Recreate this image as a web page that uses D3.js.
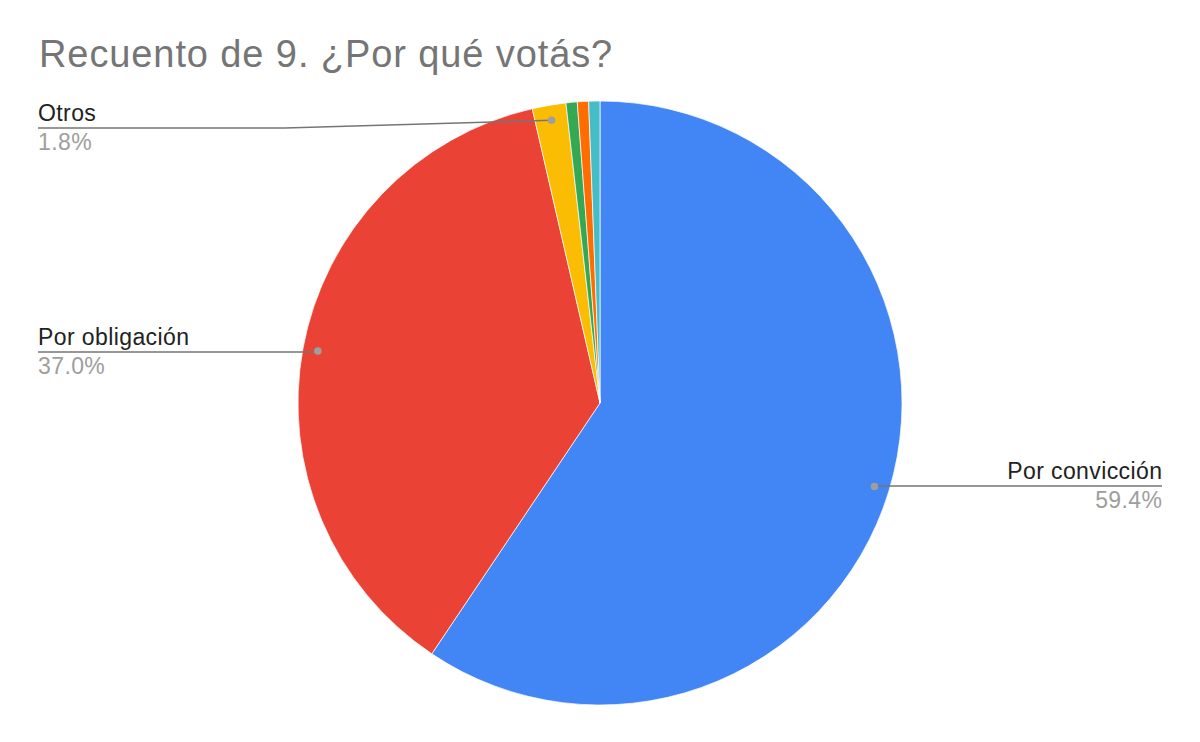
<!DOCTYPE html>
<html>
<head>
<meta charset="utf-8">
<script src="https://cdn.jsdelivr.net/npm/d3@7/dist/d3.min.js"></script>
<style>
  html, body { margin: 0; padding: 0; background: #fff; }
  svg { display: block; }
  text { font-family: Arial, "Liberation Sans", sans-serif; }
</style>
</head>
<body>
<svg id="chart" width="1200" height="742"></svg>
<script>
const title = "Recuento de 9. ¿Por qué votás?";
const categories = ["Por convicción", "Por obligación", "Otros", "Opción 4", "Opción 5", "Opción 6"];
const values = [59.4, 37.0, 1.8, 0.6, 0.6, 0.6];
const colors = ["#4285f4", "#ea4335", "#fbbc04", "#34a853", "#ff6d01", "#46bdc6"];
const labeled = ["Por convicción", "Por obligación", "Otros"];
const pctLabels = ["59.4%", "37.0%", "1.8%"];

const W = 1200, H = 742;
const cx = 600, cy = 403, R = 302;
const svg = d3.select("#chart");

svg.append("text")
  .attr("x", 39).attr("y", 67)
  .attr("fill", "#757575")
  .attr("font-size", 38)
  .attr("letter-spacing", 0.9)
  .text(title);

const data = categories.map((c, i) => ({ cat: c, value: values[i], color: colors[i] }));
const pie = d3.pie().sort(null).value(d => d.value).startAngle(0).endAngle(2 * Math.PI);
const arcs = pie(data);
const arc = d3.arc().innerRadius(0).outerRadius(R);

const g = svg.append("g").attr("transform", `translate(${cx},${cy})`);
g.selectAll("path.slice").data(arcs).enter().append("path")
  .attr("class", "slice")
  .attr("d", arc)
  .attr("fill", d => d.data.color)
  .attr("stroke", "#ffffff")
  .attr("stroke-width", 0.7);

const layout = {
  "Por convicción": { side: "right", y: 486, edge: 1162 },
  "Por obligación": { side: "left", y: 352, edge: 38 },
  "Otros": { side: "left", y: 128, edge: 38, elbow: 285 }
};
const dotArc = d3.arc().innerRadius(R * 0.95).outerRadius(R * 0.95);

arcs.forEach(a => {
  const L = layout[a.data.cat];
  if (!L) return;
  const [px, py] = dotArc.centroid(a);
  const dx = cx + px, dy = cy + py;
  const pts = [[dx, dy]];
  if (L.elbow !== undefined) pts.push([L.elbow, L.y]);
  else pts.push([dx, L.y]);
  pts.push([L.edge, L.y]);
  svg.append("path")
    .attr("d", d3.line()(pts))
    .attr("fill", "none")
    .attr("stroke", "#757575")
    .attr("stroke-width", 1.6);
  svg.append("circle")
    .attr("cx", dx).attr("cy", dy).attr("r", 3.8)
    .attr("fill", "#9e9e9e");
  const anchor = L.side === "left" ? "start" : "end";
  const tx = L.side === "left" ? L.edge : L.edge + 0.4;
  svg.append("text")
    .attr("x", tx).attr("y", L.y - 7.5)
    .attr("text-anchor", anchor)
    .attr("fill", "#222222")
    .attr("font-size", 23)
    .attr("letter-spacing", 0.4)
    .text(a.data.cat);
  const idx = labeled.indexOf(a.data.cat);
  svg.append("text")
    .attr("x", tx).attr("y", L.y + 22)
    .attr("text-anchor", anchor)
    .attr("fill", "#9e9e9e")
    .attr("font-size", 23)
    .attr("letter-spacing", 0.4)
    .text(pctLabels[idx]);
});
</script>
</body>
</html>
